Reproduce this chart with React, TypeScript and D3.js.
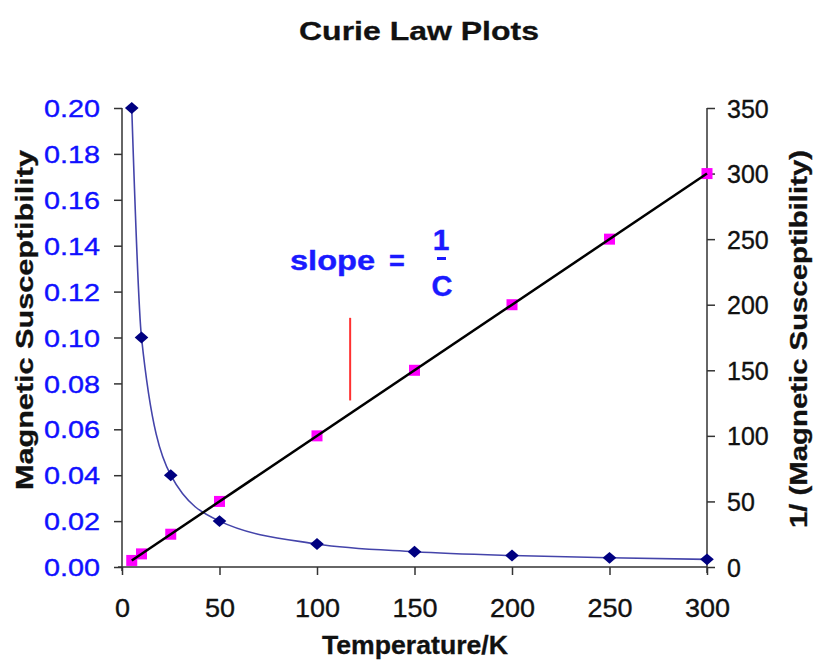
import { useEffect, useRef } from 'react';
import * as d3 from 'd3';

// Curie law data
const temperatures = [5, 10, 25, 50, 100, 150, 200, 250, 300];
const susceptibility = [0.2, 0.1, 0.04, 0.02, 0.01, 0.00667, 0.005, 0.004, 0.00333];
const inverseSusceptibility = [5, 10, 25, 50, 100, 150, 200, 250, 300];

const xTicks = [0, 50, 100, 150, 200, 250, 300];
const leftTicks = [0, 0.02, 0.04, 0.06, 0.08, 0.1, 0.12, 0.14, 0.16, 0.18, 0.2];
const rightTicks = [0, 50, 100, 150, 200, 250, 300, 350];

// red marker line (temperature, inverse susceptibility range)
const markerT = 117;
const markerRange = [127, 190];

const FONT = '"Liberation Sans", Arial, sans-serif';

const App = () => {
  const svgRef = useRef<SVGSVGElement>(null);

  useEffect(() => {
    if (!svgRef.current) return;
    const svg = d3.select(svgRef.current);
    svg.selectAll('*').remove();

    const width = 815;
    const height = 660;
    const left = 122, right = 707, top = 108, bottom = 567;

    const x = d3.scaleLinear().domain([0, 300]).range([left, right]);
    const yL = d3.scaleLinear().domain([0, 0.2]).range([bottom, top]);
    const yR = d3.scaleLinear().domain([0, 350]).range([bottom, top]);

    svg.attr('width', width).attr('height', height).style('font-family', FONT);

    // stretch a text to a wanted length
    const fit = (sel: any, len: number) => sel.attr('textLength', len).attr('lengthAdjust', 'spacingAndGlyphs');
    const widen = (sel: any, k: number) => sel.each(function (this: SVGTextElement) {
      const w = this.getComputedTextLength();
      d3.select(this).attr('textLength', w * k).attr('lengthAdjust', 'spacingAndGlyphs');
    });

    // Title
    fit(svg.append('text')
      .attr('x', 419).attr('y', 40)
      .attr('text-anchor', 'middle')
      .attr('font-size', 25).attr('font-weight', 'bold')
      .attr('fill', '#111').attr('stroke', '#111').attr('stroke-width', 0.3)
      .text('Curie Law Plots'), 240);

    // Axes
    const axisColor = '#333';
    const gx = svg.append('g').attr('transform', `translate(0,${bottom})`)
      .call(d3.axisBottom(x).tickValues(xTicks).tickSize(8).tickSizeOuter(0).tickFormat(d3.format('d')));
    gx.select('.domain').attr('stroke', axisColor).attr('stroke-width', 1.5).attr('d', `M${left - 4},0H${right}`);
    gx.selectAll('line').attr('stroke', axisColor).attr('stroke-width', 1.5);
    widen(gx.selectAll('text').attr('font-size', 25).attr('fill', '#111').attr('stroke', '#111').attr('stroke-width', 0.35)
      .attr('font-family', FONT).attr('dy', 0).attr('y', 50), 1.08);

    const gl = svg.append('g').attr('transform', `translate(${left},0)`)
      .call(d3.axisLeft(yL).tickValues(leftTicks).tickSize(8).tickSizeOuter(0).tickFormat(d3.format('.2f')));
    gl.select('.domain').attr('stroke', axisColor).attr('stroke-width', 1.5).attr('d', `M0,${top}V${bottom + 4}`);
    gl.selectAll('line').attr('stroke', axisColor).attr('stroke-width', 1.5);
    widen(gl.selectAll('text').attr('font-size', 24).attr('fill', '#1010ff').attr('stroke', '#1010ff').attr('stroke-width', 0.35)
      .attr('font-family', FONT).attr('x', -22).attr('dy', '0.36em'), 1.2);

    const gr = svg.append('g').attr('transform', `translate(${right},0)`)
      .call(d3.axisRight(yR).tickValues(rightTicks).tickSize(8).tickSizeOuter(0).tickFormat(d3.format('d')));
    gr.select('.domain').attr('stroke', axisColor).attr('stroke-width', 1.5).attr('d', `M0,${top}V${bottom + 6}`);
    gr.selectAll('line').attr('stroke', axisColor).attr('stroke-width', 1.5);
    widen(gr.selectAll('text').attr('font-size', 25).attr('fill', '#111').attr('stroke', '#111').attr('stroke-width', 0.35)
      .attr('font-family', FONT).attr('x', 20).attr('dy', '0.36em'), 1.0);

    // Axis titles
    fit(svg.append('text')
      .attr('x', 415).attr('y', 654)
      .attr('text-anchor', 'middle')
      .attr('font-size', 25).attr('font-weight', 'bold').attr('fill', '#111').attr('stroke', '#111').attr('stroke-width', 0.3)
      .text('Temperature/K'), 186);

    fit(svg.append('text')
      .attr('transform', 'translate(33,320) rotate(-90)')
      .attr('text-anchor', 'middle')
      .attr('font-size', 23).attr('font-weight', 'bold').attr('fill', '#111').attr('stroke', '#111').attr('stroke-width', 0.3)
      .text('Magnetic Susceptibility'), 340);

    fit(svg.append('text')
      .attr('transform', 'translate(807,339) rotate(-90)')
      .attr('text-anchor', 'middle')
      .attr('font-size', 23).attr('font-weight', 'bold').attr('fill', '#111').attr('stroke', '#111').attr('stroke-width', 0.3)
      .text('1/ (Magnetic Susceptibility)'), 378);

    // Susceptibility curve
    const chiPts = temperatures.map((t, i) => [t, susceptibility[i]] as [number, number]);
    const line = d3.line<[number, number]>()
      .x(d => x(d[0]))
      .y(d => yL(d[1]))
      .curve(d3.curveMonotoneX);
    svg.append('path')
      .datum(chiPts)
      .attr('fill', 'none')
      .attr('stroke', '#4444aa')
      .attr('stroke-width', 1.6)
      .attr('d', line);

    const diamond = d3.symbol().type(d3.symbolDiamond2).size(90);
    svg.selectAll('.dia')
      .data(chiPts)
      .enter()
      .append('path')
      .attr('class', 'dia')
      .attr('transform', d => `translate(${x(d[0])},${yL(d[1])}) scale(1.15,1)`)
      .attr('d', diamond)
      .attr('fill', '#000080');

    // Inverse susceptibility points
    const invPts = temperatures.map((t, i) => [t, inverseSusceptibility[i]] as [number, number]);
    svg.selectAll('.sq')
      .data(invPts)
      .enter()
      .append('rect')
      .attr('class', 'sq')
      .attr('x', d => x(d[0]) - 5.5)
      .attr('y', d => yR(d[1]) - 5.5)
      .attr('width', 11)
      .attr('height', 11)
      .attr('fill', '#ff00ff');

    // Linear trendline (least squares)
    const n = invPts.length;
    const mx = d3.mean(invPts, d => d[0]) as number;
    const my = d3.mean(invPts, d => d[1]) as number;
    const slope = d3.sum(invPts, d => (d[0] - mx) * (d[1] - my)) / d3.sum(invPts, d => (d[0] - mx) ** 2);
    const icpt = my - slope * mx;
    const tMin = invPts[0][0], tMax = invPts[n - 1][0];
    svg.append('line')
      .attr('x1', x(tMin)).attr('y1', yR(icpt + slope * tMin))
      .attr('x2', x(tMax)).attr('y2', yR(icpt + slope * tMax))
      .attr('stroke', '#000')
      .attr('stroke-width', 2.5);

    // Red marker
    svg.append('line')
      .attr('x1', x(markerT)).attr('x2', x(markerT))
      .attr('y1', yR(markerRange[1])).attr('y2', yR(markerRange[0]))
      .attr('stroke', '#ff3030')
      .attr('stroke-width', 2);

    // slope = 1/C annotation
    const blue = '#1a1aff';
    const ann = (sel: any) => sel.attr('font-weight', 'bold').attr('fill', blue).attr('stroke', blue).attr('stroke-width', 0.4);
    fit(ann(svg.append('text')
      .attr('x', 290).attr('y', 270)
      .attr('font-size', 27))
      .text('slope'), 85);
    ann(svg.append('text')
      .attr('x', 397).attr('y', 270)
      .attr('text-anchor', 'middle')
      .attr('font-size', 27))
      .text('=');
    ann(svg.append('text')
      .attr('x', 441).attr('y', 250)
      .attr('text-anchor', 'middle')
      .attr('font-size', 30))
      .text('1');
    svg.append('rect')
      .attr('x', 437).attr('y', 257).attr('width', 9).attr('height', 3)
      .attr('fill', blue);
    ann(svg.append('text')
      .attr('x', 442).attr('y', 296)
      .attr('text-anchor', 'middle')
      .attr('font-size', 29))
      .text('C');
  }, []);

  return (
    <div style={{ position: 'absolute', left: 0, top: 0, width: 815, height: 660, background: '#fff' }}>
      <svg ref={svgRef} />
    </div>
  );
};

export default App;
